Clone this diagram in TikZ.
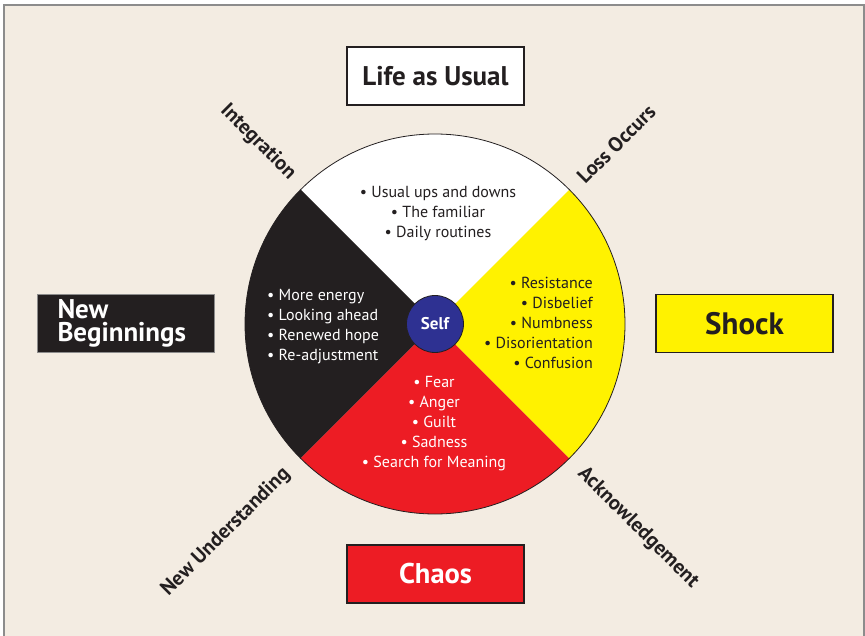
\documentclass[tikz,border=0pt]{standalone}
\usepackage{fontspec}
\setmainfont{PT Sans}
\definecolor{bg}{RGB}{243,236,226}
\definecolor{ink}{RGB}{35,31,32}
\definecolor{myyellow}{RGB}{255,242,0}
\definecolor{myred}{RGB}{237,28,36}
\definecolor{myblue}{RGB}{46,49,146}
\definecolor{frame}{RGB}{140,140,140}
\begin{document}
\begin{tikzpicture}[x=1pt,y=-1pt,
  titlebox/.style={draw=ink,line width=1.2pt,minimum width=177pt,minimum height=58pt,inner sep=0pt,font=\fontsize{27}{27}\selectfont\bfseries},
  phase/.style={text=ink,font=\fontsize{20.5}{20.5}\selectfont\bfseries,inner sep=0pt},
  bullets/.style={font=\fontsize{16}{20}\selectfont,inner sep=0pt},
]
\useasboundingbox (0,0) rectangle (865,636);
\fill[bg] (4,5) rectangle (864,640);
\draw[frame,line width=1.2pt] (4,640) -- (4,5) -- (864,5) -- (864,640);
\coordinate (c) at (435,324);
% quadrants
\fill[white] (c) -- (569.35,189.65) arc[start angle=-45,end angle=-135,radius=190] -- cycle;
\fill[ink] (c) -- (300.65,189.65) arc[start angle=-135,end angle=-225,radius=190] -- cycle;
\fill[myred] (c) -- (300.65,458.35) arc[start angle=135,end angle=45,radius=190] -- cycle;
\fill[myyellow] (c) -- (569.35,458.35) arc[start angle=45,end angle=-45,radius=190] -- cycle;
\draw[ink,line width=0.8pt] (c) circle[radius=190];
\node[circle,draw=ink,line width=0.8pt,fill=myblue,minimum size=57pt,inner sep=0pt,text=white,font=\fontsize{17}{17}\selectfont\bfseries] (self) at (c) {Self};
% bullet texts
\node[bullets,text=ink,align=center,anchor=north] (white) at (438,186) {• Usual ups and downs\\• The familiar\\• Daily routines};
\node[bullets,text=ink,align=right,anchor=north east] (yellow) at (593,277) {• Resistance\\• Disbelief\\• Numbness\\• Disorientation\\• Confusion};
\node[bullets,text=white,align=left,anchor=north west] (black) at (267,289) {• More energy\\• Looking ahead\\• Renewed hope\\• Re-adjustment};
\node[bullets,text=white,align=center,anchor=north] (red) at (434,376) {• Fear\\• Anger\\• Guilt\\• Sadness\\• Search for Meaning};
% title boxes
\node[titlebox,fill=white,text=ink] (life) at (435.5,76) {Life as Usual};
\node[titlebox,fill=myred,text=white,font=\fontsize{28.5}{28.5}\selectfont\bfseries] (chaos) at (435.5,574) {Chaos};
\node[titlebox,fill=myyellow,text=ink,font=\fontsize{31}{31}\selectfont\bfseries] (shock) at (744.5,323.5) {Shock};
\node[titlebox,fill=ink,draw=frame,line width=0.8pt,text=white,align=left,text width=137pt,font=\fontsize{27}{23}\selectfont\bfseries] (newb) at (126,323.5) {New\\Beginnings};
% phase labels
\node[phase,rotate=-45] (integ) at (258,142) {Integration};
\node[phase,rotate=45] (loss) at (616,144) {Loss Occurs};
\node[phase,rotate=45] (newu) at (226,532) {New Understanding};
\node[phase,rotate=-45] (ack) at (638,528) {Acknowledgement};
\end{tikzpicture}
\end{document}
